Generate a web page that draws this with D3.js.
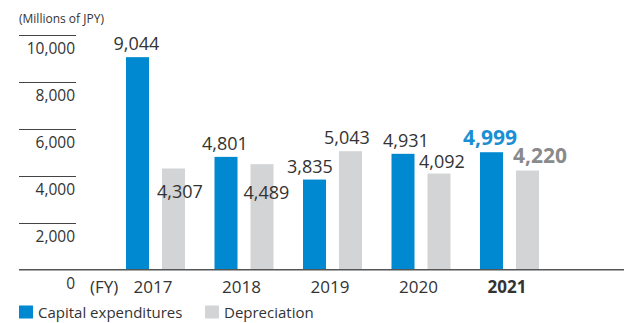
<!DOCTYPE html>
<html><head><meta charset="utf-8">
<script src="https://cdn.jsdelivr.net/npm/d3@7"></script>
<style>
body{margin:0;background:#fff;}
svg{display:block;font-family:"Open Sans",sans-serif;}
</style></head>
<body><svg id="c" width="627" height="323"></svg>
<script>
const years = ["2017","2018","2019","2020","2021"];
const capex = [9044, 4801, 3835, 4931, 4999];
const depreciation = [4307, 4489, 5043, 4092, 4220];
const yTicks = [0, 2000, 4000, 6000, 8000, 10000];
const seriesNames = ["Capital expenditures", "Depreciation"];
const colors = ["#0088d0", "#d3d4d6"];
// label placement nudges (dx, dy from default position above bar)
const capNudge = [[-1,0],[-1,0],[-4.5,0],[3,0],[-1.5,0]];
const depNudge = [[6.5,37],[4.5,41.5],[-3.5,-0.5],[3,1],[12.5,-1]];

const svg = d3.select("#c");
const y = d3.scaleLinear().domain([0,10000]).range([269.7, 34.7]);
const x = d3.scaleBand().domain(years).range([126, 539]).paddingInner(1/3).paddingOuter(0);
const xs = d3.scaleBand().domain(seriesNames).range([0, x.bandwidth()]).paddingInner(0.361);
const fmt = d3.format(",");

// tick lines and labels
const tg = svg.append("g");
yTicks.forEach(t => {
  if (t > 0) {
    tg.append("line").attr("x1",19).attr("x2",76).attr("y1",Math.round(y(t))+0.5).attr("y2",Math.round(y(t))+0.5)
      .attr("stroke","#444").attr("stroke-width",1.2);
  }
  tg.append("text").attr("x",75).attr("y",y(t)+19.5).attr("text-anchor","end")
    .attr("font-size",15.5).attr("fill","#333").text(fmt(t));
});
svg.append("text").attr("x",19).attr("y",23).attr("font-size",12).attr("fill","#333").text("(Millions of JPY)");

// bars
const rows = years.map((yr,i)=>({yr, i, vals:[capex[i], depreciation[i]]}));
const g = svg.append("g");
rows.forEach(r => {
  r.vals.forEach((v,k) => {
    g.append("rect").attr("x", x(r.yr)+xs(seriesNames[k])).attr("y", y(v))
      .attr("width", xs.bandwidth()).attr("height", y(0)-y(v)).attr("fill", colors[k]);
    const nud = k===0 ? capNudge[r.i] : depNudge[r.i];
    const last = r.i === years.length-1;
    g.append("text").attr("x", x(r.yr)+xs(seriesNames[k])+xs.bandwidth()/2 + nud[0])
      .attr("y", y(v)-7+nud[1]).attr("text-anchor","middle")
      .attr("font-size", last ? 21 : 18)
      .attr("font-weight", last ? "bold" : "normal")
      .attr("fill", last ? (k===0 ? "#1a8fd4" : "#8a8a8c") : "#333")
      .text(fmt(v));
  });
});

// baseline
svg.append("line").attr("x1",19).attr("x2",624).attr("y1",y(0)).attr("y2",y(0))
  .attr("stroke","#555").attr("stroke-width",1.5);

// x labels
const xa = svg.append("g");
years.forEach((yr,i)=>{
  xa.append("text").attr("x", x(yr)+x.bandwidth()/2-2.5).attr("y",293).attr("text-anchor","middle")
    .attr("font-size",17).attr("fill","#333").attr("font-weight", i===years.length-1?"bold":"normal").text(yr);
});
xa.append("text").attr("x",90).attr("y",293).attr("font-size",17).attr("fill","#333").text("(FY)");

// legend
const lg = svg.append("g");
const lx = [19, 205];
seriesNames.forEach((n,k)=>{
  lg.append("rect").attr("x",lx[k]).attr("y",305.5).attr("width",14).attr("height",13).attr("fill",colors[k]);
  lg.append("text").attr("x",lx[k]+19).attr("y",317.5).attr("font-size",15).attr("fill","#333").text(n);
});
</script></body></html>
